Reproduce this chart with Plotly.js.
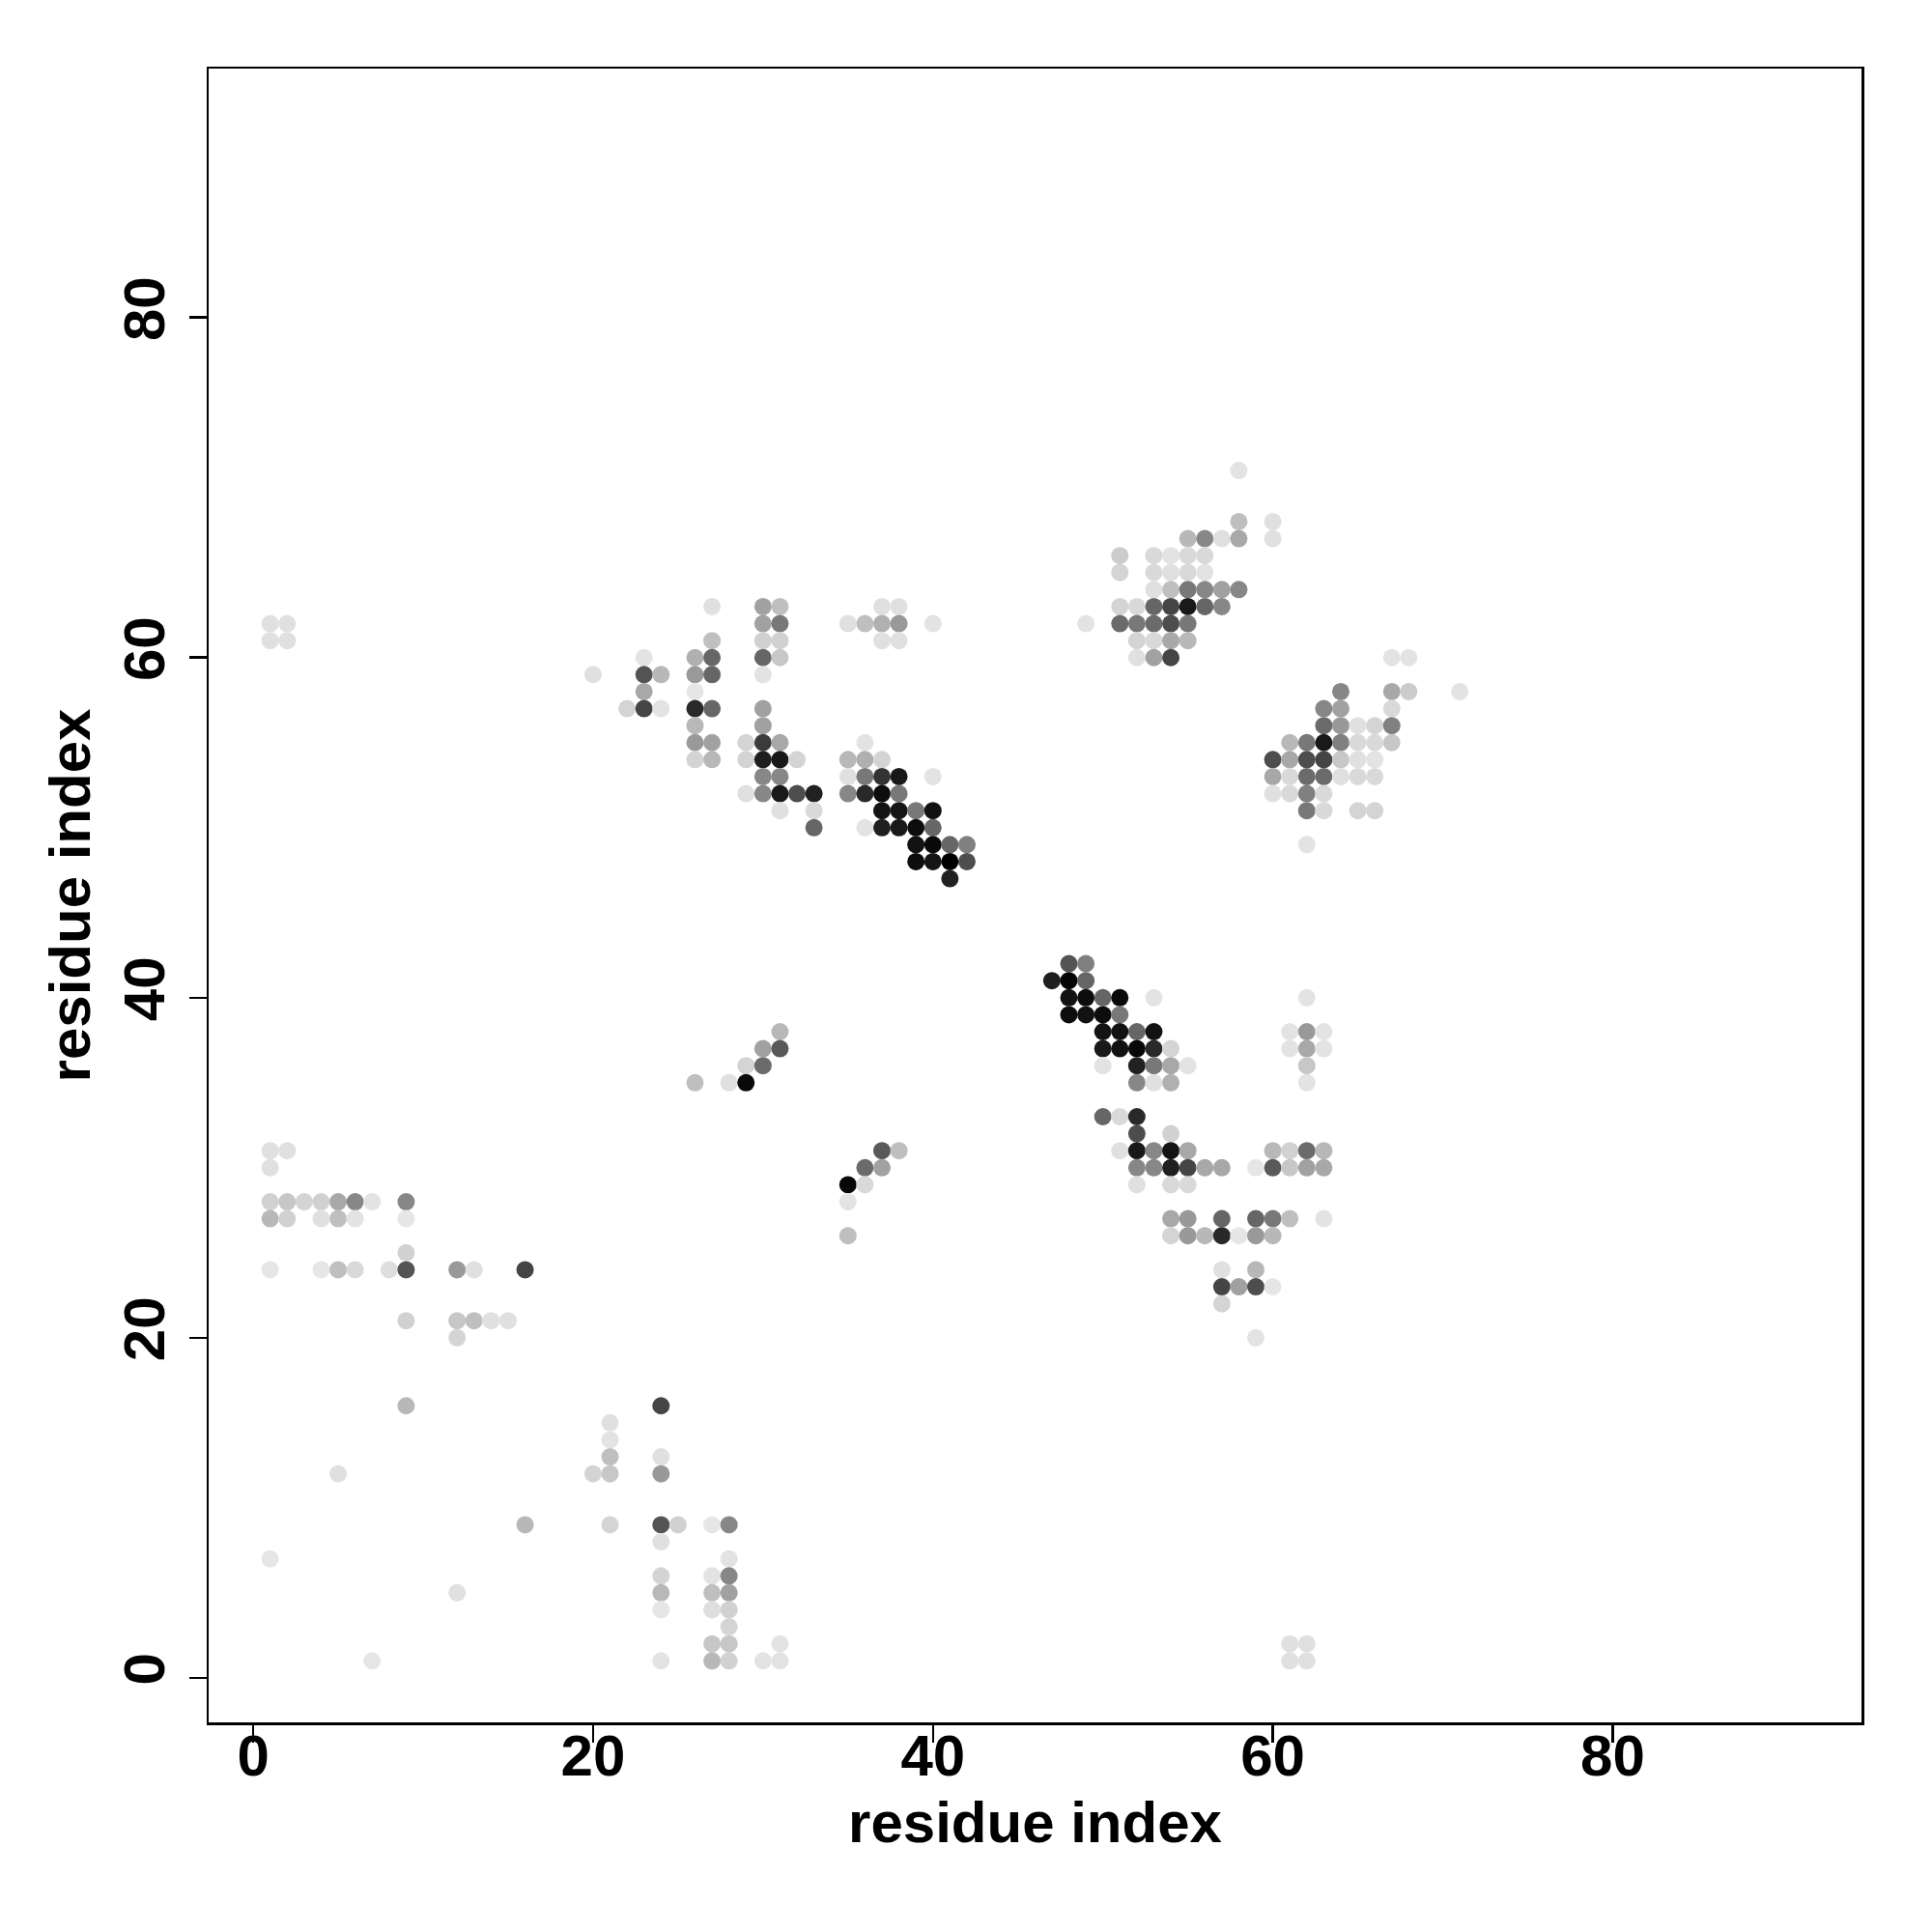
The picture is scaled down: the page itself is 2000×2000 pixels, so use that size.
<!DOCTYPE html>
<html>
<head>
<meta charset="utf-8">
<script src="https://cdn.plot.ly/plotly-3.0.1.min.js"></script>
<style>html,body{margin:0;padding:0;background:#fff;}</style>
</head>
<body>
<div id="chart" style="width:2000px;height:2000px;"></div>
<script>
// Contacts as [residue i, residue j, contact strength (0..1)]
const lowerLeft = [
  [1,31,.12],[2,31,.12],[1,30,.12],
  [1,28,.18],[2,28,.22],[3,28,.17],[4,28,.18],[5,28,.34],[6,28,.47],[7,28,.11],[9,28,.47],
  [1,27,.28],[2,27,.18],[4,27,.12],[5,27,.25],[6,27,.11],[9,27,.10],
  [9,25,.18],
  [1,24,.10],[4,24,.10],[5,24,.25],[6,24,.15],[8,24,.13],[9,24,.67],[12,24,.40],[13,24,.12],[16,24,.73],
  [9,21,.18],[12,21,.22],[13,21,.25],[14,21,.12],[15,21,.12],
  [12,20,.17],
  [9,16,.28],[5,12,.12],[16,9,.28],[1,7,.10],[12,5,.12],[7,1,.10]
];
const bottomBand = [
  [24,16,.73],[21,15,.12],[21,14,.11],[21,13,.25],[24,13,.12],
  [20,12,.17],[21,12,.22],[24,12,.40],
  [21,9,.17],[24,9,.67],[25,9,.18],[27,9,.10],[28,9,.47],
  [24,8,.12],[28,7,.11],
  [24,6,.17],[27,6,.11],[28,6,.47],
  [24,5,.28],[27,5,.25],[28,5,.37],
  [24,4,.10],[27,4,.13],[28,4,.18],
  [28,3,.17],
  [27,2,.22],[28,2,.22],[31,2,.11],
  [24,1,.11],[27,1,.28],[28,1,.18],[30,1,.11],[31,1,.11],
  [61,1,.12],[61,2,.12],[62,1,.12],[62,2,.12],
  [1,61,.12],[1,62,.12],[2,61,.12],[2,62,.12]
];
const upperMid = [
  [27,63,.12],[30,63,.37],[31,63,.25],
  [30,62,.37],[31,62,.53],
  [27,61,.25],[30,61,.18],[31,61,.18],
  [23,60,.11],[26,60,.31],[27,60,.60],[30,60,.60],[31,60,.22],
  [20,59,.12],[23,59,.67],[24,59,.28],[26,59,.40],[27,59,.60],[30,59,.11],
  [23,58,.34],[26,58,.10],
  [22,57,.17],[23,57,.73],[24,57,.11],[26,57,.84],[27,57,.60],[30,57,.37],
  [26,56,.28],[30,56,.37],
  [26,55,.40],[27,55,.37],[29,55,.17],[30,55,.77],[31,55,.34],
  [26,54,.17],[27,54,.28],[29,54,.17],[30,54,.88],[31,54,.90],[32,54,.17],
  [30,53,.47],[31,53,.47],
  [29,52,.12],[30,52,.47],[31,52,.90],[32,52,.70],[33,52,.87],
  [31,51,.12],[33,51,.15],
  [33,50,.60]
];
const hairpinA = [
  [37,63,.12],[38,63,.12],
  [35,62,.12],[36,62,.25],[37,62,.31],[38,62,.40],[40,62,.11],
  [37,61,.12],[38,61,.12],
  [36,55,.11],
  [35,54,.28],[36,54,.31],[37,54,.17],
  [35,53,.12],[36,53,.53],[37,53,.80],[38,53,.90],[40,53,.11],
  [35,52,.47],[36,52,.84],[37,52,.95],[38,52,.53],
  [37,51,.92],[38,51,.92],[39,51,.53],[40,51,.93],
  [36,50,.11],[37,50,.88],[38,50,.90],[39,50,.95],[40,50,.60],
  [39,49,.93],[40,49,.96],[41,49,.60],[42,49,.50],
  [39,48,.95],[40,48,.92],[41,48,1.0],[42,48,.70],
  [41,47,.87]
];
const midDiagonals = [
  [31,38,.28],[30,37,.37],[31,37,.65],[29,36,.17],[30,36,.58],[26,35,.25],[28,35,.12],[29,35,.96],
  [37,31,.65],[38,31,.25],[36,30,.58],[37,30,.37],[35,29,.97],[36,29,.15],[35,28,.11],[35,26,.25]
];
const hairpinB = [
  [48,42,.67],[49,42,.50],
  [47,41,.88],[48,41,.98],[49,41,.60],
  [48,40,.93],[49,40,.95],[50,40,.60],[51,40,.96],[53,40,.11],[62,40,.11],
  [48,39,.95],[49,39,.93],[50,39,.95],[51,39,.53],
  [50,38,.92],[51,38,.93],[52,38,.60],[53,38,.93],[61,38,.11],[62,38,.40],[63,38,.11],
  [50,37,.90],[51,37,.93],[52,37,.97],[53,37,.84],[54,37,.17],[61,37,.11],[62,37,.34],[63,37,.11],
  [50,36,.11],[52,36,.87],[53,36,.53],[54,36,.34],[55,36,.11],[62,36,.22],
  [52,35,.47],[53,35,.12],[54,35,.31],[62,35,.11],
  [50,33,.60],[51,33,.15],[52,33,.84],
  [52,32,.70],[54,32,.18],
  [51,31,.12],[52,31,.90],[53,31,.47],[54,31,.92],[55,31,.34],[60,31,.28],[61,31,.18],[62,31,.58],[63,31,.28],
  [52,30,.47],[53,30,.47],[54,30,.88],[55,30,.73],[56,30,.34],[57,30,.34],[59,30,.10],[60,30,.65],[61,30,.22],[62,30,.37],[63,30,.34],
  [52,29,.12],[54,29,.15],[55,29,.15],
  [54,27,.34],[55,27,.40],[57,27,.60],[59,27,.60],[60,27,.53],[61,27,.25],[63,27,.11],
  [54,26,.17],[55,26,.40],[56,26,.28],[57,26,.84],[58,26,.10],[59,26,.40],[60,26,.28],
  [57,24,.12],[59,24,.28],
  [57,23,.73],[58,23,.37],[59,23,.70],[60,23,.10],
  [57,22,.17],
  [59,20,.11]
];
const upperRightA = [
  [58,71,.11],
  [58,68,.25],[60,68,.12],
  [55,67,.28],[56,67,.47],[57,67,.12],[58,67,.34],[60,67,.12],
  [51,66,.20],[53,66,.15],[54,66,.11],[55,66,.15],[56,66,.15],
  [51,65,.17],[53,65,.15],[54,65,.12],[55,65,.15],[56,65,.11],
  [53,64,.12],[54,64,.25],[55,64,.53],[56,64,.47],[57,64,.37],[58,64,.47],
  [51,63,.17],[52,63,.15],[53,63,.60],[54,63,.73],[55,63,.90],[56,63,.60],[57,63,.47],
  [49,62,.11],[51,62,.58],[52,62,.53],[53,62,.58],[54,62,.70],[55,62,.53],
  [52,61,.17],[53,61,.15],[54,61,.34],[55,61,.28],
  [52,60,.12],[53,60,.37],[54,60,.73]
];
const upperRightB = [
  [67,60,.11],[68,60,.11],
  [64,58,.47],[67,58,.34],[68,58,.20],[71,58,.11],
  [63,57,.47],[64,57,.37],[67,57,.15],
  [63,56,.58],[64,56,.40],[65,56,.12],[66,56,.17],[67,56,.50],
  [61,55,.28],[62,55,.53],[63,55,.90],[64,55,.50],[65,55,.15],[66,55,.15],[67,55,.22],
  [60,54,.70],[61,54,.34],[62,54,.70],[63,54,.73],[64,54,.22],[65,54,.12],[66,54,.11],
  [60,53,.34],[61,53,.15],[62,53,.58],[63,53,.58],[64,53,.12],[65,53,.15],[66,53,.15],
  [60,52,.12],[61,52,.15],[62,52,.50],[63,52,.15],
  [62,51,.53],[63,51,.15],[65,51,.17],[66,51,.17],
  [62,49,.11]
];
const tickValues = [0, 20, 40, 60, 80];
const axisLabel = "residue index";

const all = [].concat(lowerLeft, bottomBand, upperMid, hairpinA, midDiagonals, hairpinB, upperRightA, upperRightB);
const xs = all.map(p => p[0]);
const ys = all.map(p => p[1]);
const ws = all.map(p => p[2]);

const fontFam = "Liberation Sans, Arial, Helvetica, sans-serif";
const tickFont = {family: fontFam, size: 60, color: "#000", weight: "bold"};
const titleFont = {family: fontFam, size: 60, color: "#000", weight: "bold"};

const trace = {
  type: "scatter",
  mode: "markers",
  x: xs, y: ys,
  marker: {
    size: 18,
    color: ws,
    cmin: 0, cmax: 1,
    colorscale: [[0, "#ffffff"], [1, "#000000"]],
    showscale: false,
    line: {width: 0}
  },
  hoverinfo: "x+y"
};

const axisCommon = {
  range: [-2.62, 94.64],
  tickmode: "array",
  tickvals: tickValues,
  ticktext: tickValues.map(String),
  ticks: "outside",
  ticklen: 18,
  tickwidth: 2.5,
  tickcolor: "#000",
  showline: true,
  linewidth: 2.5,
  linecolor: "#000",
  mirror: true,
  showgrid: false,
  zeroline: false,
  tickfont: tickFont,
  automargin: false
};

const layout = {
  width: 2000, height: 2000,
  paper_bgcolor: "#fff", plot_bgcolor: "#fff",
  margin: {l: 216, r: 73, t: 71, b: 217},
  showlegend: false,
  xaxis: Object.assign({}, axisCommon, {
    ticklabelstandoff: -38,
    title: {text: axisLabel, font: titleFont, standoff: 16}
  }),
  yaxis: Object.assign({}, axisCommon, {
    tickangle: -90,
    ticklabelstandoff: 2,
    title: {text: axisLabel, font: titleFont, standoff: 3}
  })
};

Plotly.newPlot("chart", [trace], layout, {staticPlot: true});
</script>
</body>
</html>
